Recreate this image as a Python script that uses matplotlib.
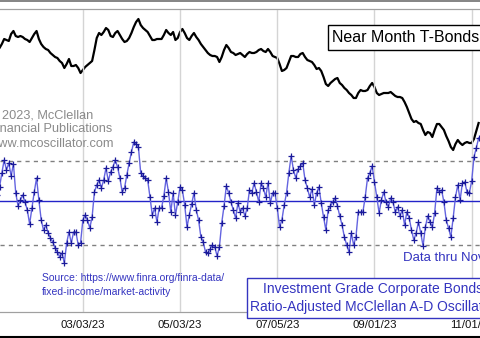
import numpy as np
import pandas as pd
import matplotlib
matplotlib.use("Agg")
import matplotlib.pyplot as plt
from matplotlib.patches import Rectangle
from matplotlib.lines import Line2D

plt.rcParams["font.family"] = ["Liberation Sans", "DejaVu Sans"]

# trading calendar (first label date through last data date)
calendar_start = "2023-01-03"
calendar_end = "2023-11-06"
holidays = ["2023-01-16", "2023-02-20", "2023-04-07", "2023-05-29",
            "2023-06-19", "2023-07-04", "2023-09-04"]
data_start = "2023-01-09"

tick_dates = ["2023-01-03", "2023-03-03", "2023-05-03",
              "2023-07-05", "2023-09-01", "2023-11-01"]

# ratio-adjusted McClellan A-D oscillator, investment grade corp bonds
osc = [
    6, 14, 28, 41, 31, 38, 25, 37, 8, -5,
    1, 6, -1, -9, -23, -7, 9, 23, 1, -19,
    -29, -24, -32, -37, -41, -47, -51, -56, -52, -62,
    -42, -31, -42, -31, -31, -44, -42, -19, -14, -19,
    -27, -16, 9, 16, 21, 13, 21, 33, 20, 29,
    34, 41, 34, 23, 9, 13, 26, 38, 49, 59,
    57, 54, 28, 25, 23, 21, 4, -14, -7, -21,
    -7, -7, 5, 23, 9, -11, 8, -14, -1, 14,
    11, -4, -26, -14, -3, 8, -9, -19, -36, -41,
    -51, -52, -48, -44, -46, -55, -46, -22, -5, 15,
    8, -1, -9, -17, -2, -11, -7, -15, -7, 11,
    8, 18, 9, -1, 18, 13, 4, 18, -2, 8,
    8, -7, -26, -19, -4, 8, 28, 45, 31, 23,
    32, 35, 38, 21, 13, 4, 12, -4, 8, 14,
    -2, -16, -29, -9, -5, -1, 3, -5, -15, -24,
    -36, -44, -51, -32, -44, -36, -11, -11, -11, 4,
    23, 28, 35, 19, 4, -12, 1, 9, -1, -6,
    3, -1, -11, -6, -15, -9, -24, -11, -17, -29,
    -39, -32, -21, -32, -45, -26, -15, -21, -26, -12,
    13, 9, 11, -1, -19, -27, -36, -17, 4, 16,
    1, 18, 19, 9, 8, 20, 44, 53, 63,
]
osc_upper = 40
osc_lower = -44

# near month T-bond futures
bonds = [
    126.0, 126.4, 127.2, 128.2, 128.0, 127.8, 129.2, 129.8, 128.8, 128.6,
    128.8, 128.6, 128.2, 128.0, 127.6, 128.4, 129.2, 129.8, 128.2, 127.2,
    126.6, 126.2, 126.0, 125.4, 125.0, 124.6, 124.4, 123.8, 123.4, 122.4,
    123.2, 124.2, 122.8, 122.8, 123.0, 122.4, 121.4, 122.0, 122.6, 123.0,
    123.4, 123.8, 126.0, 128.4, 129.4, 129.0, 129.6, 130.4, 130.0, 128.8,
    128.6, 129.4, 129.8, 129.0, 128.2, 127.6, 127.8, 128.4, 129.4, 130.6,
    131.6, 132.2, 131.0, 130.4, 130.0, 129.6, 128.8, 128.0, 128.0, 128.2,
    128.2, 128.2, 129.0, 130.0, 129.4, 129.0, 129.6, 128.0, 128.4, 129.6,
    130.2, 129.4, 128.4, 128.0, 128.8, 129.4, 128.6, 128.0, 127.2, 126.6,
    126.0, 125.4, 125.0, 124.8, 124.8, 124.6, 123.6, 124.6, 126.0, 127.0,
    126.4, 125.6, 125.4, 125.0, 125.2, 125.4, 125.0, 124.6, 125.2, 125.6,
    125.4, 125.4, 125.6, 126.0, 126.2, 125.8, 125.6, 126.2, 125.6, 124.8,
    124.6, 124.4, 123.2, 121.8, 122.0, 122.4, 123.6, 124.8, 124.8, 124.6,
    124.6, 125.2, 125.4, 124.6, 124.0, 123.8, 123.6, 123.0, 122.2, 122.4,
    121.8, 120.6, 119.2, 118.8, 119.4, 119.8, 120.2, 120.4, 119.4, 119.0,
    118.4, 118.0, 117.4, 117.0, 116.4, 116.4, 117.4, 118.0, 117.8, 117.8,
    118.0, 118.8, 119.4, 118.6, 117.4, 117.0, 117.2, 117.4, 117.4, 117.4,
    117.6, 117.2, 116.8, 116.6, 116.6, 116.4, 115.6, 114.6, 113.4, 112.2,
    111.6, 111.8, 111.4, 111.2, 110.0, 109.0, 109.6, 109.4, 108.6, 110.0,
    111.2, 111.2, 110.6, 110.0, 108.8, 107.8, 106.6, 106.0, 107.2, 108.0,
    107.4, 107.0, 107.4, 107.6, 107.4, 107.4, 108.2, 109.8, 111.4,
]

days = pd.bdate_range(calendar_start, calendar_end)
days = days[~days.isin(pd.to_datetime(holidays))]
day_index = {d: i for i, d in enumerate(days)}
x = np.arange(day_index[pd.Timestamp(data_start)], len(days))

W, H = 480, 338


def fx(px):
    return px / W


def fy(py):
    return 1 - py / H


fig = plt.figure(figsize=(W / 100, H / 100), dpi=100)

ax = fig.add_axes([0, fy(312), 1, fy(9) - fy(312)])
ax2 = ax.twinx()
ax.set_zorder(ax2.get_zorder() + 1)
ax.patch.set_visible(False)

# T-bonds (top)
ax2.plot(x, bonds, color="black", lw=1.6)
ax2.set_ylim(73.6, 134.2)
ax2.set_yticks([])

# oscillator
ax.axhline(0, color="#2323c8", lw=1.0, zorder=1)
ax.axhline(osc_upper, color="#808080", lw=1.0, ls=(0, (3, 3)), zorder=1)
ax.axhline(osc_lower, color="#808080", lw=1.0, ls=(0, (3, 3)), zorder=1)
ax.plot(x, osc, color="#6464e0", lw=1.0, zorder=2)
ax.plot(x, osc, ls="none", marker="+", ms=5, mew=0.9,
        color="#1a1a99", zorder=3)
ax.set_ylim(-111, 192)
ax.set_yticks([])

ticks = [day_index[pd.Timestamp(d)] for d in tick_dates]
ax.set_xticks(ticks)
ax.set_xticklabels([pd.Timestamp(d).strftime("%m/%d/%y") for d in tick_dates],
                   fontsize=8.2, color="#111111")
ax.tick_params(axis="x", length=0, pad=6)
ax.set_xlim(5.2, 212.6)
ax.grid(axis="x", color="#d4d4d4", lw=1.0)
ax.set_axisbelow(True)

for a in (ax, ax2):
    a.spines["left"].set_visible(False)
    a.spines["right"].set_visible(False)
    a.spines["top"].set_color("#a0a0a0")
    a.spines["bottom"].set_color("#a0a0a0")

# figure border lines
fig.add_artist(Line2D([0, 1], [fy(0.5), fy(0.5)], color="#707070", lw=1.2))
fig.add_artist(Line2D([0, 1], [fy(336.8), fy(336.8)], color="black", lw=1.5))

# copyright text
gray = "#8a8a8a"
fig.text(fx(-11), fy(115), "\u00a9 2023, McClellan", color=gray,
         fontsize=9.2, va="center")
fig.text(fx(-11), fy(129.5), "Financial Publications", color=gray,
         fontsize=9.2, va="center")
fig.text(fx(-11), fy(144), "www.mcoscillator.com", color=gray,
         fontsize=9.2, va="center")

# source
blue_txt = "#3434c0"
fig.text(fx(42), fy(278), "Source: https://www.finra.org/finra-data/",
         color=blue_txt, fontsize=7.5, va="center")
fig.text(fx(42), fy(292), "fixed-income/market-activity",
         color=blue_txt, fontsize=7.5, va="center")

fig.text(fx(403), fy(258), "Data thru Nov 6", color=blue_txt,
         fontsize=9.5, va="center")

# T-bonds label box
fig.add_artist(Rectangle((fx(328), fy(50)), fx(170), fy(25) - fy(50),
                         transform=fig.transFigure, facecolor="white",
                         edgecolor="black", lw=1.0, zorder=5))
fig.text(fx(332), fy(37.5), "Near Month T-Bonds", color="black",
         fontsize=11.5, va="center", zorder=6)

# oscillator title box
fig.add_artist(Rectangle((fx(247), fy(318)), fx(260), fy(278) - fy(318),
                         transform=fig.transFigure, facecolor="white",
                         edgecolor="#3434c0", lw=1.0, zorder=5))
fig.text(fx(373), fy(289), "Investment Grade Corporate Bonds",
         color=blue_txt, fontsize=10, ha="center", va="center", zorder=6)
fig.text(fx(373), fy(307), "Ratio-Adjusted McClellan A-D Oscillator",
         color=blue_txt, fontsize=10, ha="center", va="center", zorder=6)

fig.savefig("out.png", dpi=100)
